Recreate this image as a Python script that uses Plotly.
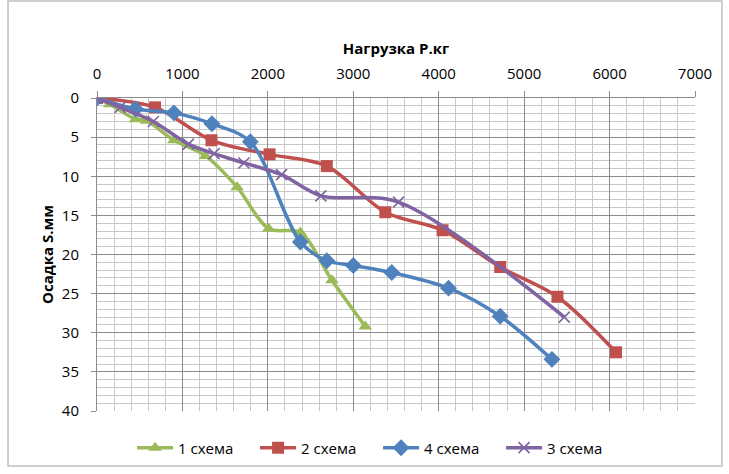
import plotly.graph_objects as go

# Data
x1 = [0, 150, 450, 580, 900, 1270, 1640, 2010, 2380, 2750, 3140]
y1 = [0, 0.8, 2.7, 2.9, 5.4, 7.4, 11.4, 16.7, 17.2, 23.3, 29.2]

x2 = [0, 680, 1340, 2020, 2690, 3375, 4045, 4720, 5390, 6075]
y2 = [0, 1.2, 5.4, 7.2, 8.7, 14.6, 16.9, 21.6, 25.4, 32.5]

x4 = [0, 450, 900, 1345, 1795, 2380, 2690, 3000, 3450, 4115, 4720, 5325]
y4 = [0, 1.4, 1.9, 3.3, 5.6, 18.4, 20.8, 21.4, 22.3, 24.3, 27.9, 33.4]

x3 = [0, 270, 660, 1070, 1370, 1720, 2160, 2620, 3530, 5470]
y3 = [0, 1.2, 3.0, 5.9, 7.1, 8.3, 9.8, 12.5, 13.3, 28.0]

names = ["1 схема", "2 схема", "4 схема", "3 схема"]
colors = ["#9BBB59", "#C0504D", "#4F81BD", "#8064A2"]

fig = go.Figure()
series = [
    (x1, y1, "triangle-up", 12, None),
    (x2, y2, "square", 12, None),
    (x4, y4, "diamond", 13, None),
    (x3, y3, "x-thin", 11, 1.6),
]
for (xs, ys, sym, sz, lw), nm, c in zip(series, names, colors):
    marker = dict(symbol=sym, size=sz, color=c)
    if lw:
        marker["line"] = dict(color=c, width=lw)
    fig.add_trace(go.Scatter(
        x=xs, y=ys, name=nm, mode="lines+markers",
        line=dict(color=c, width=3.5, shape="spline", smoothing=0.9),
        marker=marker,
    ))

fig.update_layout(
    width=729, height=474,
    margin=dict(l=97, r=34, t=98, b=63, autoexpand=False),
    paper_bgcolor="white", plot_bgcolor="white",
    font=dict(family="Open Sans, Liberation Sans, sans-serif", size=14, color="#000000"),
    showlegend=True,
    legend=dict(orientation="h", x=0.47, xanchor="center", y=-0.118, yanchor="middle",
                font=dict(size=15), itemwidth=36, entrywidth=72, entrywidthmode="pixels",
                bgcolor="rgba(0,0,0,0)"),
)
fig.update_xaxes(
    side="top", range=[0, 7000], dtick=1000, tick0=0,
    showgrid=True, gridcolor="#8c8c8c", gridwidth=1,
    minor=dict(dtick=200, showgrid=True, gridcolor="#c8c8c8", gridwidth=1),
    ticks="outside", ticklen=6, tickcolor="#8c8c8c",
    showline=True, linecolor="#8c8c8c", linewidth=1,
    tickfont=dict(size=15), ticklabelstandoff=6,
    zeroline=False, automargin=False,
    title=dict(text="<b>Нагрузка Р.кг</b>", font=dict(size=15), standoff=4),
)
fig.update_yaxes(
    range=[40, 0], dtick=5, tick0=0,
    showgrid=True, gridcolor="#8c8c8c", gridwidth=1,
    minor=dict(dtick=1, showgrid=True, gridcolor="#c8c8c8", gridwidth=1),
    ticks="outside", ticklen=5, tickcolor="#8c8c8c",
    showline=True, linecolor="#8c8c8c", linewidth=1,
    tickfont=dict(size=15), ticklabelstandoff=9,
    zeroline=False, automargin=False,
    title=dict(text="<b>Осадка S.мм</b>", font=dict(size=15), standoff=4),
)
# outer chart border
fig.add_shape(type="rect", xref="paper", yref="paper",
              x0=-0.1488, x1=1.045, y0=-0.176, y1=1.31,
              line=dict(color="#bfbfbf", width=1.5), fillcolor="rgba(0,0,0,0)", layer="below")

fig.write_html("out.html", config={"displayModeBar": False},
               post_script="document.body.style.margin='0';document.body.style.overflow='hidden';")
